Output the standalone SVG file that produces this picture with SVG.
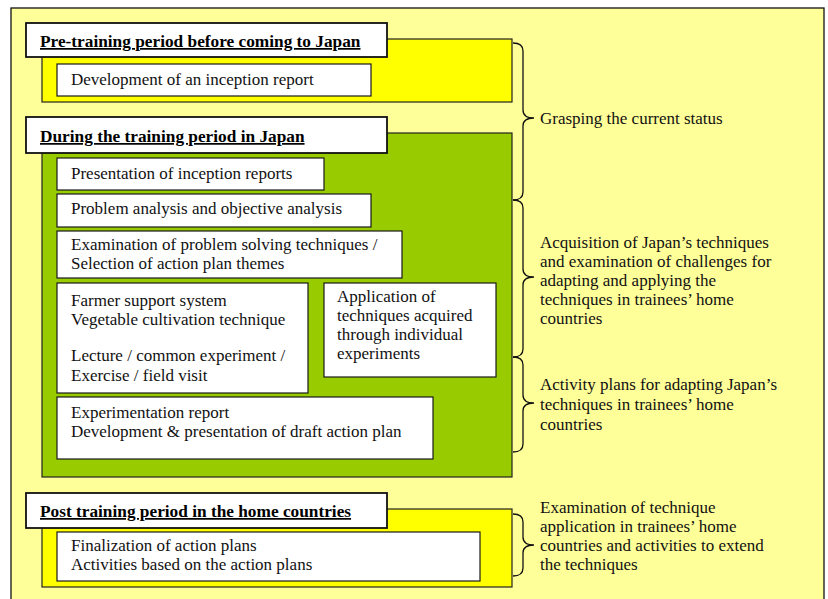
<svg xmlns="http://www.w3.org/2000/svg" width="828" height="599" viewBox="0 0 828 599">
<style>
.box{fill:#fff;stroke:#1a1a1a;stroke-width:1.2}
.hdr{fill:#fff;stroke:#111;stroke-width:1.8}
.t{font-family:"Liberation Serif",serif;font-size:17px;fill:#111}
.h{font-family:"Liberation Serif",serif;font-size:17.3px;font-weight:bold;fill:#000;text-decoration:underline}
.br{fill:none;stroke:#111;stroke-width:1.3}
</style>
<rect x="11" y="8" width="813" height="600" fill="#FFFF99" stroke="#111" stroke-width="1.3"/>
<g id="pre">
<rect x="42" y="39" width="470" height="63" fill="#FFFF00" stroke="#222" stroke-width="1.2"/>
<rect class="hdr" x="26" y="23" width="361" height="34"/>
<text class="h" x="40" y="47">Pre-training period before coming to Japan</text>
</g>
<g id="n-dev">
<rect class="box" x="57" y="64" width="314" height="32"/>
<text class="t" x="71" y="85">Development of an inception report</text>
</g>
<g id="during">
<rect x="42" y="133" width="470" height="344" fill="#99CC00" stroke="#222" stroke-width="1.2"/>
<rect class="hdr" x="26" y="117" width="361" height="36"/>
<text class="h" x="40" y="142">During the training period in Japan</text>
</g>
<g id="n-pres">
<rect class="box" x="57" y="158" width="267" height="32"/>
<text class="t" x="71" y="179">Presentation of inception reports</text>
</g>
<g id="n-prob">
<rect class="box" x="57" y="194" width="314" height="33"/>
<text class="t" x="71" y="214">Problem analysis and objective analysis</text>
</g>
<g id="n-exam">
<rect class="box" x="57" y="231" width="345" height="47"/>
<text class="t" x="71" y="250">Examination of problem solving techniques /</text>
<text class="t" x="71" y="269">Selection of action plan themes</text>
</g>
<g id="n-farmer">
<rect class="box" x="57" y="283" width="251" height="110"/>
<text class="t" x="71" y="306">Farmer support system</text>
<text class="t" x="71" y="325">Vegetable cultivation technique</text>
<text class="t" x="71" y="361">Lecture / common experiment /</text>
<text class="t" x="71" y="381">Exercise / field visit</text>
</g>
<g id="n-app">
<rect class="box" x="324" y="283" width="172" height="94"/>
<text class="t" x="337" y="302">Application of</text>
<text class="t" x="337" y="321">techniques acquired</text>
<text class="t" x="337" y="340">through individual</text>
<text class="t" x="337" y="359">experiments</text>
</g>
<g id="n-expr">
<rect class="box" x="57" y="397" width="376" height="62"/>
<text class="t" x="71" y="418">Experimentation report</text>
<text class="t" x="71" y="437">Development &amp; presentation of draft action plan</text>
</g>
<g id="post">
<rect x="42" y="509" width="470" height="78" fill="#FFFF00" stroke="#222" stroke-width="1.2"/>
<rect class="hdr" x="26" y="493" width="361" height="35"/>
<text class="h" x="40" y="517">Post training period in the home countries</text>
</g>
<g id="n-final">
<rect class="box" x="57" y="532" width="423" height="49"/>
<text class="t" x="71" y="551">Finalization of action plans</text>
<text class="t" x="71" y="570">Activities based on the action plans</text>
</g>
<g id="connectors">
<path class="br" d="M513,43 Q523,43 523,51 L523,110 Q523,118 534,118 Q523,118 523,126 L523,192 Q523,200 513,200"/>
<path class="br" d="M513,200 Q523,200 523,208 L523,269 Q523,277 534,277 Q523,277 523,285 L523,349 Q523,357 513,357"/>
<path class="br" d="M513,357 Q523,357 523,365 L523,395 Q523,403 534,403 Q523,403 523,411 L523,444 Q523,452 513,452"/>
<path class="br" d="M513,514 Q523,514 523,522 L523,537 Q523,545 534,545 Q523,545 523,553 L523,568 Q523,576 513,576"/>
</g>
<g id="labels">
<text class="t" x="540" y="124">Grasping the current status</text>
<text class="t" x="540" y="248">Acquisition of Japan’s techniques</text>
<text class="t" x="540" y="267">and examination of challenges for</text>
<text class="t" x="540" y="286">adapting and applying the</text>
<text class="t" x="540" y="305">techniques in trainees’ home</text>
<text class="t" x="540" y="324">countries</text>
<text class="t" x="540" y="390">Activity plans for adapting Japan’s</text>
<text class="t" x="540" y="410">techniques in trainees’ home</text>
<text class="t" x="540" y="430">countries</text>
<text class="t" x="540" y="513">Examination of technique</text>
<text class="t" x="540" y="532">application in trainees’ home</text>
<text class="t" x="540" y="551">countries and activities to extend</text>
<text class="t" x="540" y="570">the techniques</text>
</g>
</svg>
